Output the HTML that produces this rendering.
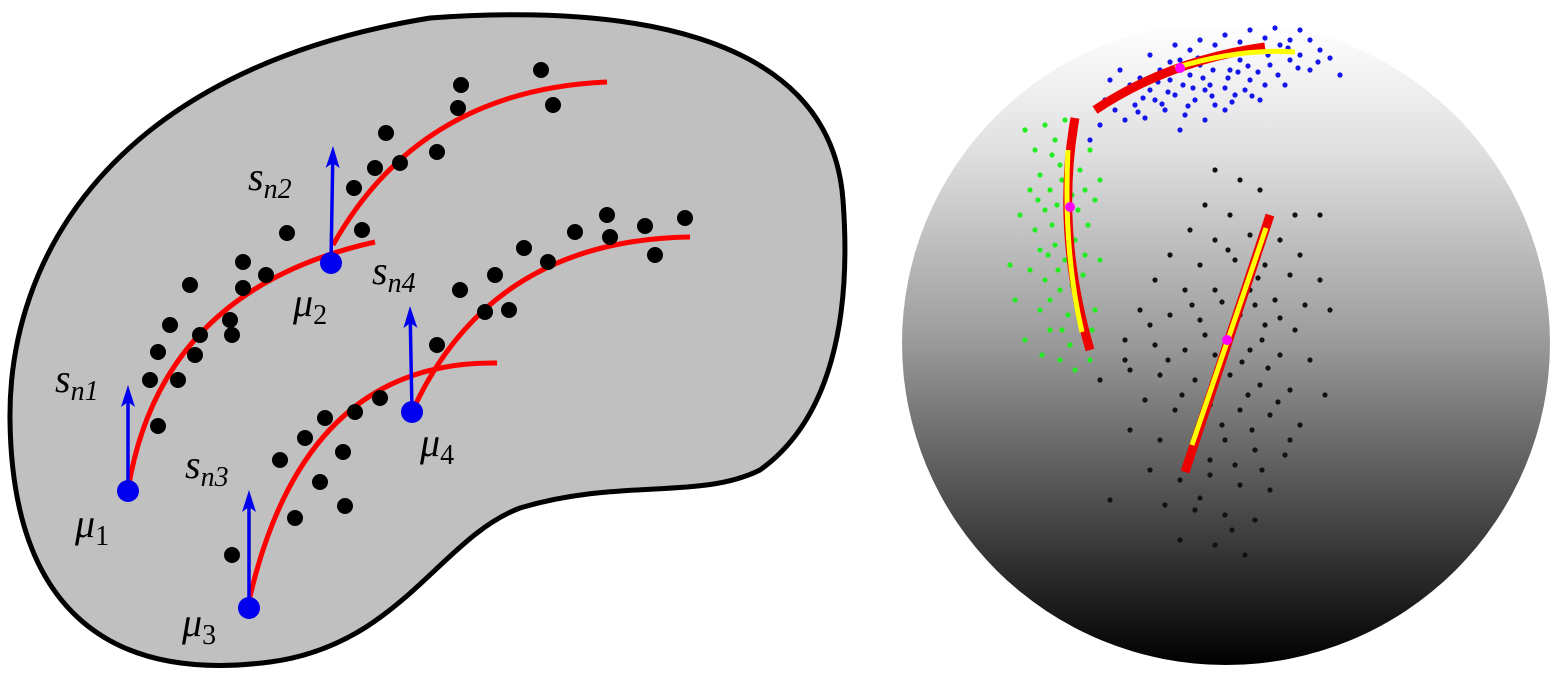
<!DOCTYPE html>
<html><head><meta charset="utf-8">
<style>
html,body{margin:0;padding:0;background:#fff;width:1557px;height:681px;overflow:hidden}
svg{display:block}
</style></head>
<body>
<svg id="fig" width="1557" height="681" viewBox="0 0 1557 681">
<defs>
<linearGradient id="sg" x1="0" y1="0" x2="0" y2="1">
<stop offset="0" stop-color="#ffffff"/><stop offset="0.2" stop-color="#e0e0e0"/><stop offset="0.5" stop-color="#9a9a9a"/><stop offset="1" stop-color="#000000"/>
</linearGradient>
</defs>
<path d="M430 18 C610 5,830 25,843 200 C852 320,830 420,760 470 C700 500,620 478,520 508 C440 538,400 645,270 662 C100 684,12 600,10 420 C8 260,110 70,430 18 Z" fill="#c0c0c0" stroke="#000" stroke-width="5"/>
<g id="left"></g>
<ellipse cx="1226" cy="343" rx="324" ry="322" fill="url(#sg)"/>
<g id="right"></g>
</svg>
<script>
const ns="http://www.w3.org/2000/svg";
const leftDots=[[541,70],[461,85],[458,108],[553,105],[386,133],[437,152],[375,168],[400,163],[354,188],[362,230],[287,233],[243,262],[266,275],[243,288],[190,285],[230,320],[232,335],[170,325],[200,335],[158,352],[195,355],[150,380],[178,380],[158,426],[607,215],[645,226],[685,218],[610,237],[575,232],[655,255],[548,262],[524,248],[495,275],[460,290],[485,312],[509,310],[437,345],[380,398],[355,412],[325,418],[343,452],[305,438],[280,460],[320,482],[345,506],[295,518],[232,555]];
const curves=[[128,490,160,290,375,242],[333,245,420,90,607,82],[247,610,300,360,497,363],[412,412,490,240,690,237]];
const means=[[128,491],[331,263],[249,608],[412,412]];
const arrowTips=[[128,385],[333,146],[249,490],[410,306]];
const sLabels=[[55,392,"1"],[248,190,"2"],[185,478,"3"],[372,284,"4"]];
const muLabels=[[75,537,"1"],[293,316,"2"],[182,636,"3"],[420,456,"4"]];
const blueCloud=[[1105,100],[1120,95],[1130,85],[1140,78],[1150,90],[1160,70],[1170,80],[1180,60],[1190,75],[1200,65],[1210,85],[1220,55],[1230,70],[1240,60],[1250,80],[1260,50],[1270,65],[1280,45],[1290,60],[1300,55],[1310,70],[1320,50],[1340,75],[1115,110],[1135,105],[1155,100],[1175,95],[1195,100],[1215,105],[1235,95],[1100,125],[1125,120],[1145,118],[1165,110],[1185,115],[1205,90],[1225,88],[1245,90],[1265,85],[1110,80],[1150,55],[1175,45],[1200,40],[1225,35],[1250,30],[1275,28],[1300,30],[1205,120],[1180,130],[1225,110],[1090,140],[1120,70],[1260,100],[1285,85],[1310,40],[1128,92],[1143,98],[1158,82],[1168,92],[1183,85],[1193,88],[1203,78],[1213,70],[1228,78],[1238,72],[1248,66],[1258,72],[1268,55],[1278,75],[1288,48],[1298,68],[1318,62],[1330,58],[1138,112],[1162,104],[1188,106],[1212,96],[1232,102],[1252,96],[1190,50],[1215,45],[1240,42],[1265,38],[1290,40],[1170,62],[1198,58]];
const greenCloud=[[1025,130],[1035,150],[1045,125],[1055,140],[1040,175],[1050,190],[1060,165],[1080,170],[1090,150],[1095,200],[1045,210],[1035,230],[1055,245],[1075,240],[1088,225],[1100,260],[1030,270],[1010,265],[1045,280],[1060,290],[1080,300],[1095,310],[1040,310],[1025,340],[1050,330],[1070,345],[1090,360],[1060,360],[1075,370],[1015,300],[1100,180],[1065,120],[1030,190],[1048,255],[1083,275],[1068,315],[1020,215],[1057,205],[1092,330],[1042,355],[1052,155],[1062,180],[1072,195],[1052,225],[1065,260],[1040,250],[1058,270],[1072,285],[1050,300],[1062,330],[1085,190],[1085,255],[1038,200],[1070,225],[1078,210]];
const blackCloud=[[1215,170],[1240,180],[1260,190],[1295,215],[1320,215],[1205,205],[1230,215],[1190,230],[1215,240],[1250,235],[1280,240],[1300,255],[1170,255],[1200,265],[1235,260],[1265,265],[1290,275],[1320,280],[1155,280],[1185,290],[1215,290],[1250,290],[1275,300],[1305,305],[1140,310],[1170,315],[1200,320],[1240,315],[1265,325],[1295,330],[1125,340],[1155,345],[1185,350],[1215,355],[1250,350],[1280,355],[1310,360],[1130,370],[1160,375],[1195,380],[1230,375],[1260,385],[1290,390],[1325,395],[1145,400],[1175,410],[1210,405],[1240,410],[1270,415],[1300,425],[1130,430],[1160,440],[1195,445],[1225,440],[1255,450],[1285,455],[1150,470],[1180,480],[1210,475],[1240,485],[1270,490],[1165,505],[1195,510],[1225,515],[1255,520],[1180,540],[1215,545],[1245,555],[1110,500],[1125,360],[1100,380],[1330,310],[1228,250],[1258,278],[1222,302],[1255,305],[1232,330],[1262,340],[1205,335],[1242,362],[1268,368],[1212,392],[1248,395],[1278,402],[1222,425],[1252,430],[1182,395],[1168,360],[1192,305],[1280,318],[1235,465],[1262,470],[1210,460],[1290,440],[1150,325],[1200,498],[1232,530]];
const sphereRed=["M1095 110 Q1170 60 1265 47","M1075 118 Q1055 230 1090 350","M1185 472 L1270 215"];
const sphereYellow=["M1175 68 Q1240 48 1295 52","M1068 150 Q1063 250 1082 332","M1192 445 L1266 228"];
const magenta=[[1070,207],[1227,340],[1180,68]];

function mk(tag,attrs,parent){const e=document.createElementNS(ns,tag);for(const k in attrs)e.setAttribute(k,attrs[k]);parent.appendChild(e);return e;}
const L=document.getElementById('left'),R=document.getElementById('right');
curves.forEach(c=>{const e=mk('path',{d:`M${c[0]} ${c[1]} Q${c[2]} ${c[3]} ${c[4]} ${c[5]}`,fill:'none',stroke:'#ff0000','stroke-width':5},L);

});
leftDots.forEach(d=>{const e=mk('circle',{cx:d[0],cy:d[1],r:8,fill:'#000'},L);

});
means.forEach((m,i)=>{const t=arrowTips[i];
const dx=t[0]-m[0],dy=t[1]-m[1],len=Math.hypot(dx,dy),ux=dx/len,uy=dy/len,px=-uy,py=ux;
const bx=t[0]-ux*22,by=t[1]-uy*22;
const a=mk('line',{x1:m[0],y1:m[1],x2:bx+ux*6,y2:by+uy*6,stroke:'#0000ee','stroke-width':3.5},L);


const h=mk('polygon',{points:`${t[0]},${t[1]} ${bx+px*7},${by+py*7} ${bx+ux*5},${by+uy*5} ${bx-px*7},${by-py*7}`,fill:'#0000ee'},L);


const c=mk('circle',{cx:m[0],cy:m[1],r:11,fill:'#0000ee'},L);

});
const fs='font-family:"Liberation Serif","DejaVu Serif",serif;font-style:italic;font-size:40px;fill:#000';
sLabels.forEach(s=>{const t=mk('text',{x:s[0],y:s[1],style:fs},L);t.innerHTML=`s<tspan dy="8" style="font-size:28px">n${s[2]}</tspan>`;

});
muLabels.forEach(s=>{const t=mk('text',{x:s[0],y:s[1],style:fs},L);t.innerHTML=`μ<tspan dy="8" style="font-size:28px;font-style:normal">${s[2]}</tspan>`;

});
[[blueCloud,'#1515ee'],[greenCloud,'#22ee22'],[blackCloud,'#111']].forEach(([arr,col])=>arr.forEach(d=>{const e=mk('circle',{cx:d[0],cy:d[1],r:2.6,fill:col},R);

}));
sphereRed.forEach(p=>{const e=mk('path',{d:p,fill:'none',stroke:'#ee0000','stroke-width':9,'stroke-linecap':'butt'},R);

});
sphereYellow.forEach(p=>{const e=mk('path',{d:p,fill:'none',stroke:'#ffff00','stroke-width':5},R);

});
magenta.forEach(d=>{const e=mk('circle',{cx:d[0],cy:d[1],r:5,fill:'#ff00ff'},R);

});
</script>
</body></html>
